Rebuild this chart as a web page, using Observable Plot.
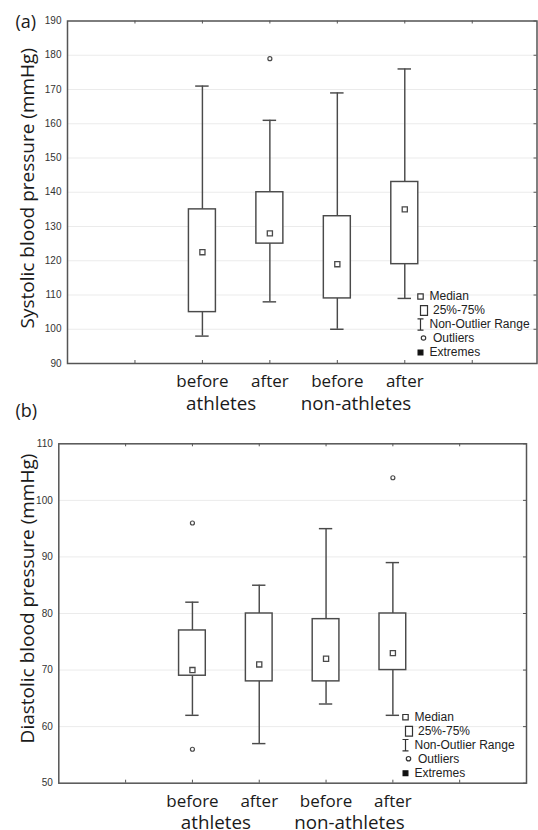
<!DOCTYPE html>
<html><head><meta charset="utf-8">
<script src="https://cdn.jsdelivr.net/npm/d3@7"></script>
<script src="https://cdn.jsdelivr.net/npm/@observablehq/plot@0.6"></script>
<style>
body{margin:0;background:#fff;}
#wrap{position:relative;width:538px;height:830px;overflow:hidden;background:#fff;}
.panel{position:absolute;left:0;}
</style></head><body><div id="wrap"></div>
<script>
// ---- data ----
const phases = ["before", "after", "before", "after"];
const groups = ["athletes", "non-athletes"];
const groupOf = [0, 0, 1, 1];

// (a) systolic
const sysLow = [98, 108, 100, 109];
const sysQ1 = [105, 125, 109, 119];
const sysMed = [122.5, 128, 119, 135];
const sysQ3 = [135, 140, 133, 143];
const sysHigh = [171, 161, 169, 176];
const sysOutliers = [[], [179], [], []];
const sysTicks = [90, 100, 110, 120, 130, 140, 150, 160, 170, 180, 190];

// (b) diastolic
const diaLow = [62, 57, 64, 62];
const diaQ1 = [69, 68, 68, 70];
const diaMed = [70, 71, 72, 73];
const diaQ3 = [77, 80, 79, 80];
const diaHigh = [82, 85, 95, 89];
const diaOutliers = [[96, 56], [], [], [104]];
const diaTicks = [50, 60, 70, 80, 90, 100, 110];

const legendLabels = ["Median", "25%-75%", "Non-Outlier Range", "Outliers", "Extremes"];

// ---- drawing ----
const W = 538;
const ink = "#4a4a4a";
const legendSymbols = [
  {draw(c) { c.rect(-2.7, -2.7, 5.4, 5.4); }},
  {draw(c) { c.rect(-3.5, -4.9, 7, 9.8); }},
  {draw(c) { c.moveTo(-3, -5.7); c.lineTo(3, -5.7); c.moveTo(0, -5.7); c.lineTo(0, 5.7); c.moveTo(-3, 5.7); c.lineTo(3, 5.7); }},
  {draw(c) { c.moveTo(2.2, 0); c.arc(0, 0, 2.2, 0, 2 * Math.PI); }},
  {draw(c) { c.rect(-2.4, -2.4, 4.8, 4.8); }}
];
const legendFill = ["white", "white", "none", "white", "#111"];
const iconDx = [0, 3.5, 0, 3, 0];
const textDx = [9, 12.5, 9, 12.5, 9];
const rowDy = [0, 14, 28, 41.5, 56];

function makePanel(cfg) {
  const rows = phases.map((phase, i) => ({
    pos: i + 2, phase,
    low: cfg.low[i], q1: cfg.q1[i], med: cfg.med[i], q3: cfg.q3[i], high: cfg.high[i]
  }));
  const outs = rows.flatMap((r, i) => cfg.outliers[i].map(v => ({pos: r.pos, v})));
  const groupRows = groups.map((name, j) => ({
    name, pos: d3.mean(rows.filter((r, i) => groupOf[i] === j), r => r.pos)
  }));
  const xt = d3.range(1, 7);
  const ph = cfg.height - cfg.mt - cfg.mb;
  const pw = W - cfg.ml - cfg.mr;
  const sw = 1.45, bh = 0.2, ch = 0.1;
  const font = "'Open Sans', sans-serif";

  const legendMarks = legendLabels.flatMap((label, k) => [
    Plot.dot([label], {frameAnchor: "bottom-right", dx: cfg.lx + iconDx[k], dy: cfg.ly + rowDy[k],
      symbol: legendSymbols[k], stroke: k === 4 ? "#111" : "#333", fill: legendFill[k], strokeWidth: 1.2}),
    Plot.text([label], {text: d => d, frameAnchor: "bottom-right", textAnchor: "start", lineAnchor: "middle",
      dx: cfg.lx + textDx[k], dy: cfg.ly + rowDy[k], fontSize: 12,
      fontFamily: "'Liberation Sans', Arial, sans-serif", fill: "#222"})
  ]);

  return Plot.plot({
    width: W, height: cfg.height,
    marginTop: cfg.mt, marginBottom: cfg.mb, marginLeft: cfg.ml, marginRight: cfg.mr,
    style: {background: "transparent", overflow: "visible", fontFamily: "'Liberation Sans', Arial, sans-serif", fontSize: "10px", color: "#333"},
    x: {domain: cfg.xDomain, axis: null},
    y: {domain: cfg.yDomain, ticks: cfg.ticks, tickSize: 0, tickPadding: 6, label: null, tickFormat: d => String(d)},
    marks: [
      Plot.ruleY(cfg.ticks, {y: d => d, stroke: "#ebebeb", strokeWidth: 1}),
      Plot.tickX(xt, {x: d => d, insetBottom: ph - 3, stroke: "#555"}),
      Plot.tickX(xt, {x: d => d, insetTop: ph - 3, stroke: "#555"}),
      Plot.tickY(cfg.ticks, {y: d => d, insetLeft: pw - 3, stroke: "#555"}),
      Plot.ruleX(rows, {x: "pos", y1: "low", y2: "high", stroke: ink, strokeWidth: sw}),
      Plot.ruleY(rows, {y: "low", x1: d => d.pos - ch, x2: d => d.pos + ch, stroke: ink, strokeWidth: sw}),
      Plot.ruleY(rows, {y: "high", x1: d => d.pos - ch, x2: d => d.pos + ch, stroke: ink, strokeWidth: sw}),
      Plot.rect(rows, {x1: d => d.pos - bh, x2: d => d.pos + bh, y1: "q1", y2: "q3", fill: "white", stroke: ink, strokeWidth: sw}),
      Plot.dot(rows, {x: "pos", y: "med", symbol: "square", r: 2.9, stroke: ink, strokeWidth: 1.3, fill: "white"}),
      Plot.dot(outs, {x: "pos", y: "v", r: 2, stroke: ink, strokeWidth: 1.2, fill: "white"}),
      Plot.frame({stroke: "#555", strokeWidth: 1.5}),
      Plot.text(rows, {x: "pos", text: "phase", frameAnchor: "bottom", lineAnchor: "middle", dy: 18.5, fontSize: 17, fontFamily: font, fill: "#1a1a1a"}),
      Plot.text(groupRows, {x: "pos", text: "name", frameAnchor: "bottom", lineAnchor: "middle", dy: 40, dx: cfg.gdx, fontSize: 18.8, fontFamily: font, fill: "#1a1a1a"}),
      Plot.text([cfg.tag], {text: d => d, frameAnchor: "top-left", textAnchor: "start", lineAnchor: "middle", dx: cfg.tagDx, dy: cfg.tagDy, fontSize: 18, fontFamily: font, fill: "#1a1a1a"}),
      Plot.text([cfg.title], {text: d => d, frameAnchor: "left", textAnchor: "middle", lineAnchor: "middle", rotate: -90, dx: cfg.titleDx, dy: cfg.titleDy, fontSize: 19, fontFamily: font, fill: "#1a1a1a"}),
      ...legendMarks
    ]
  });
}

const wrap = document.getElementById("wrap");

const pa = makePanel({
  low: sysLow, q1: sysQ1, med: sysMed, q3: sysQ3, high: sysHigh, outliers: sysOutliers,
  ticks: sysTicks, yDomain: [90, 190], xDomain: [0, 6.96],
  height: 420, mt: 20.5, mb: 57, ml: 67, mr: 1.5,
  gdx: -15, tag: "(a)", tagDx: -52, tagDy: 1.5,
  title: "Systolic blood pressure (mmHg)", titleDx: -40, titleDy: -4,
  lx: -116.5, ly: -67
});
const da = document.createElement("div"); da.className = "panel"; da.style.top = "0px"; da.appendChild(pa); wrap.appendChild(da);

const pb = makePanel({
  low: diaLow, q1: diaQ1, med: diaMed, q3: diaQ3, high: diaHigh, outliers: diaOutliers,
  ticks: diaTicks, yDomain: [50, 110], xDomain: [0, 7],
  height: 430, mt: 43.3, mb: 47.3, ml: 58.3, mr: 12,
  gdx: -10, tag: "(b)", tagDx: -43.3, tagDy: -33,
  title: "Diastolic blood pressure (mmHg)", titleDx: -31.3, titleDy: -15,
  lx: -121, ly: -66
});
const db = document.createElement("div"); db.className = "panel"; db.style.top = "400px"; db.appendChild(pb); wrap.appendChild(db);
</script>
</body></html>
